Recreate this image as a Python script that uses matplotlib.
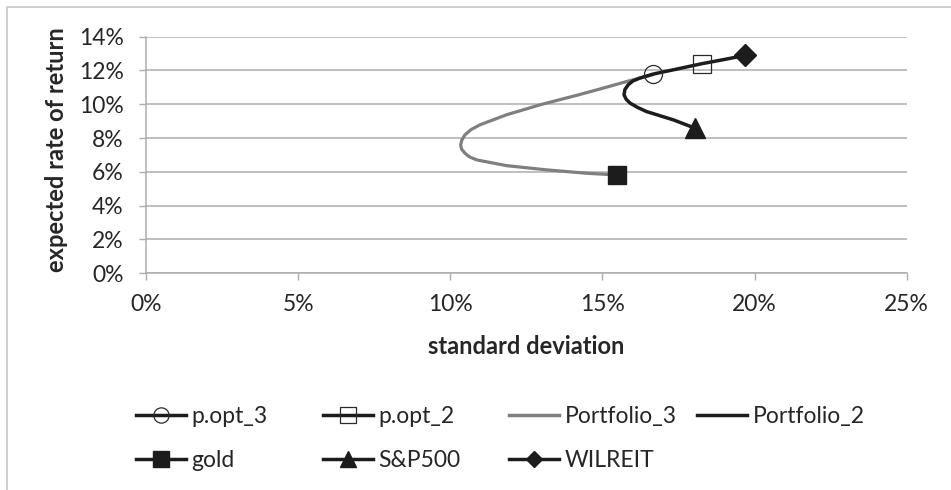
import matplotlib
matplotlib.use("Agg")
import matplotlib.pyplot as plt
from matplotlib.lines import Line2D

plt.rcParams['font.family'] = ['Lato', 'DejaVu Sans']

# data (values in percent)
p3_sd = [15.47, 14.48, 13.17, 11.85, 10.87, 10.62, 10.48, 10.37, 10.34, 10.38,
         10.48, 10.68, 10.98, 11.85, 12.95, 14.15, 14.95, 15.80, 16.67]
p3_ret = [5.82, 5.92, 6.12, 6.37, 6.71, 6.90, 7.11, 7.35, 7.60, 7.88,
          8.19, 8.50, 8.79, 9.38, 9.97, 10.53, 10.92, 11.35, 11.76]

p2_sd = [18.04, 17.33, 16.45, 16.15, 15.91, 15.78, 15.71, 15.74, 15.85, 16.00,
         16.23, 16.67, 17.33, 18.26, 18.97, 19.68]
p2_ret = [8.59, 9.08, 9.57, 9.82, 10.07, 10.30, 10.56, 10.88, 11.16, 11.38,
          11.55, 11.79, 12.04, 12.40, 12.64, 12.89]

popt3 = (16.67, 11.79)
popt2 = (18.26, 12.40)
gold = (15.47, 5.82)
sp500 = (18.04, 8.59)
wilreit = (19.68, 12.89)

x_ticks = [0, 5, 10, 15, 20, 25]
y_ticks = [0, 2, 4, 6, 8, 10, 12, 14]

W, H = 951, 490
fig = plt.figure(figsize=(W / 100, H / 100), dpi=100)
ax = fig.add_axes([146 / W, 1 - 273.3 / H, 760.7 / W, 236.6 / H])

grid_c = '#adadad'
txt_c = '#262626'
dark = '#1c1c1c'
fs = 16.5

ax.plot(p3_sd, p3_ret, color='#7f7f7f', lw=2.3, solid_joinstyle='round',
        solid_capstyle='round', zorder=3)
ax.plot(p2_sd, p2_ret, color=dark, lw=2.5, solid_joinstyle='round',
        solid_capstyle='round', zorder=4)

ax.plot(*popt3, marker='o', ms=13, mfc='none', mec='#2a2a2a', mew=0.9, ls='none', zorder=5)
ax.plot(*popt2, marker='s', ms=13, mfc='none', mec='#2a2a2a', mew=0.9, ls='none', zorder=5)
ax.plot(*gold, marker='s', ms=13.5, color=dark, ls='none', zorder=5)
ax.plot(*sp500, marker='^', ms=14, color=dark, ls='none', zorder=5)
ax.plot(*wilreit, marker='D', ms=11, color=dark, ls='none', zorder=5)

ax.set_xlim(0, 25)
ax.set_ylim(0, 14)
ax.set_xticks(x_ticks)
ax.set_xticklabels([f"{v}%" for v in x_ticks])
ax.set_yticks(y_ticks)
ax.set_yticklabels([f"{v}%" for v in y_ticks])
ax.yaxis.grid(True, color=grid_c, lw=1.1)
ax.set_axisbelow(True)
for s in ['top', 'right']:
    ax.spines[s].set_visible(False)
for s in ['left', 'bottom']:
    ax.spines[s].set_color(grid_c)
    ax.spines[s].set_linewidth(1.1)
ax.tick_params(axis='both', direction='out', length=5, width=1, color=grid_c,
               labelsize=fs, labelcolor=txt_c)
ax.tick_params(axis='y', pad=11)
ax.tick_params(axis='x', pad=10)

fig.text(57 / W, 1 - 150 / H, 'expected rate of return', rotation=90,
         ha='center', va='center', fontsize=17, fontweight='bold', color=txt_c)
fig.text(526 / W, 1 - 346 / H, 'standard deviation',
         ha='center', va='center', fontsize=17, fontweight='bold', color=txt_c)

# legend, one column at a time like the spreadsheet layout
def h(**kw):
    kw.setdefault('color', dark)
    return Line2D([], [], lw=2.5, **kw)

columns = [
    ([h(marker='o', ms=11, mfc='none', mec='#2a2a2a', mew=0.9),
      h(marker='s', ms=11)], ['p.opt_3', 'gold'], 136),
    ([h(marker='s', ms=11, mfc='none', mec='#2a2a2a', mew=0.9),
      h(marker='^', ms=11)], ['p.opt_2', 'S&P500'], 323),
    ([h(color='#7f7f7f'), h(marker='D', ms=8)],
     ['Portfolio_3', 'WILREIT'], 509),
    ([h()], ['Portfolio_2'], 697),
]
for handles, labels, x in columns:
    leg = fig.legend(handles, labels, loc='upper left',
                     bbox_to_anchor=(x / W, 1 - 406 / H),
                     frameon=False, fontsize=fs, handlelength=2.2,
                     handletextpad=0.22, borderpad=0, borderaxespad=0,
                     labelspacing=1.0, labelcolor=txt_c)

# chart frame (top and left edges visible)
fig.add_artist(Line2D([7 / W, 7 / W, 1], [0, 1 - 7 / H, 1 - 7 / H],
                      transform=fig.transFigure, color='#c6c6c6', lw=1.2))

fig.savefig('out.png', dpi=100)
